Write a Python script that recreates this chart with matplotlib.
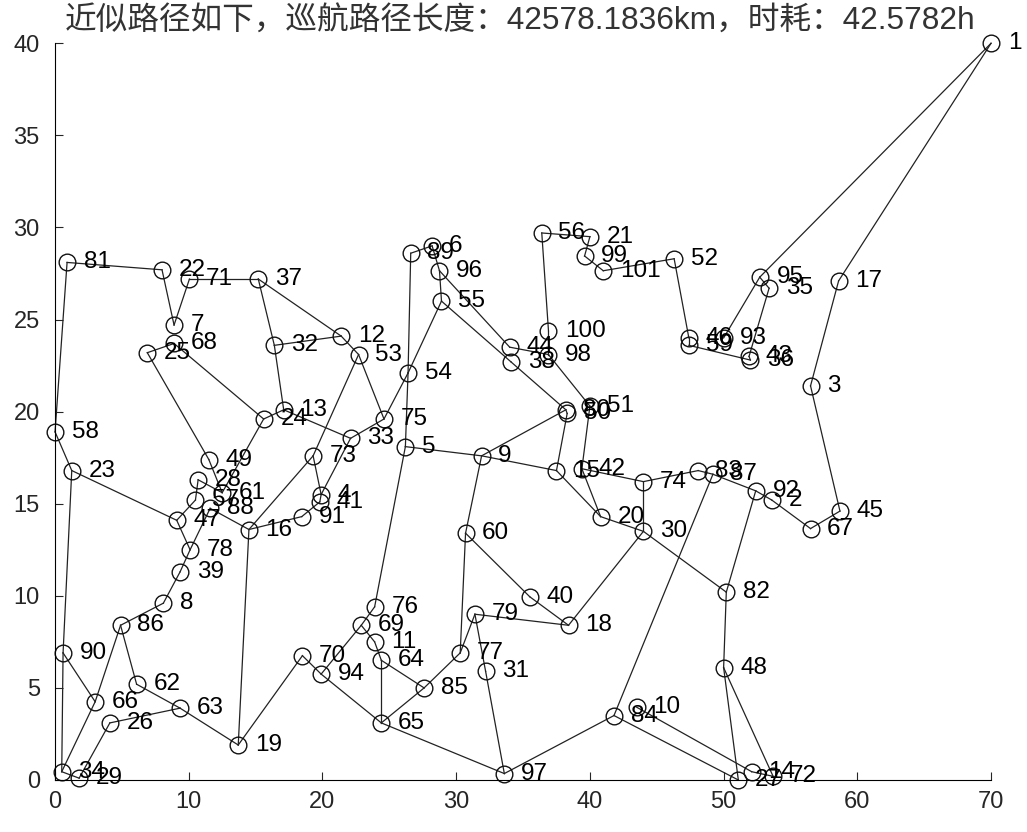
import numpy as np
import matplotlib.pyplot as plt

plt.rcParams['font.family'] = ['Liberation Sans', 'Noto Sans CJK SC', 'DejaVu Sans']

# city coordinates, indexed by city number
city_x = {1: 70.0, 2: 53.6, 3: 56.5, 4: 19.9, 5: 26.2, 6: 28.2, 7: 8.9, 8: 8.1, 9: 31.9, 10: 43.5,
          11: 23.9, 12: 21.4, 13: 17.1, 14: 52.1, 15: 37.5, 16: 14.5, 17: 58.6, 18: 38.4, 19: 13.7, 20: 40.8,
          21: 40.0, 22: 8.0, 23: 1.25, 24: 15.6, 25: 6.9, 26: 4.1, 27: 51.1, 28: 10.7, 29: 1.8, 30: 44.0,
          31: 32.2, 32: 16.4, 33: 22.1, 34: 0.5, 35: 53.4, 36: 52.0, 37: 15.2, 38: 34.1, 39: 9.35, 40: 35.5,
          41: 19.8, 42: 39.4, 43: 51.9, 44: 34.0, 45: 58.7, 46: 47.4, 47: 9.1, 48: 50.0, 49: 11.5, 50: 38.3,
          51: 40.0, 52: 46.3, 53: 22.7, 54: 26.4, 55: 28.9, 56: 36.4, 57: 10.5, 58: 0.0, 59: 47.4, 60: 30.7,
          61: 12.5, 62: 6.1, 63: 9.35, 64: 24.4, 65: 24.4, 66: 3.0, 67: 56.5, 68: 8.9, 69: 22.9, 70: 18.5,
          71: 10.05, 72: 53.7, 73: 19.3, 74: 44.0, 75: 24.6, 76: 23.9, 77: 30.3, 78: 10.1, 79: 31.4, 80: 38.2,
          81: 0.9, 82: 50.2, 83: 48.1, 84: 41.8, 85: 27.6, 86: 4.9, 87: 49.2, 88: 11.6, 89: 26.6, 90: 0.6,
          91: 18.45, 92: 52.4, 93: 50.0, 94: 19.9, 95: 52.7, 96: 28.75, 97: 33.6, 98: 36.9, 99: 39.6, 100: 36.9,
          101: 41.0}
city_y = {1: 40.0, 2: 15.2, 3: 21.4, 4: 15.5, 5: 18.1, 6: 29.0, 7: 24.7, 8: 9.6, 9: 17.6, 10: 3.95,
          11: 7.5, 12: 24.1, 13: 20.1, 14: 0.45, 15: 16.8, 16: 13.6, 17: 27.1, 18: 8.4, 19: 1.9, 20: 14.3,
          21: 29.5, 22: 27.7, 23: 16.8, 24: 19.6, 25: 23.2, 26: 3.1, 27: 0.0, 28: 16.3, 29: 0.1, 30: 13.5,
          31: 5.9, 32: 23.6, 33: 18.55, 34: 0.45, 35: 26.7, 36: 22.8, 37: 27.2, 38: 22.7, 39: 11.3, 40: 9.95,
          41: 15.1, 42: 16.9, 43: 23.0, 44: 23.5, 45: 14.6, 46: 24.0, 47: 14.1, 48: 6.1, 49: 17.4, 50: 19.9,
          51: 20.3, 52: 28.3, 53: 23.1, 54: 22.1, 55: 26.0, 56: 29.7, 57: 15.2, 58: 18.9, 59: 23.6, 60: 13.4,
          61: 15.6, 62: 5.2, 63: 3.9, 64: 6.5, 65: 3.1, 66: 4.25, 67: 13.65, 68: 23.7, 69: 8.4, 70: 6.75,
          71: 27.2, 72: 0.2, 73: 17.6, 74: 16.2, 75: 19.6, 76: 9.4, 77: 6.9, 78: 12.5, 79: 9.0, 80: 20.1,
          81: 28.1, 82: 10.2, 83: 16.8, 84: 3.5, 85: 5.0, 86: 8.4, 87: 16.6, 88: 14.75, 89: 28.6, 90: 6.9,
          91: 14.3, 92: 15.7, 93: 24.0, 94: 5.75, 95: 27.3, 96: 27.65, 97: 0.35, 98: 23.1, 99: 28.45, 100: 24.4,
          101: 27.65}

# legs of the cruise route (from city, to city)
legs = [(1, 95), (1, 17), (17, 3), (3, 45), (45, 67), (67, 2), (2, 92), (92, 87), (87, 83), (83, 74),
        (92, 82), (30, 82), (82, 48), (48, 27), (48, 72), (72, 14), (14, 10), (27, 84), (84, 87), (84, 97),
        (95, 35), (95, 93), (35, 43), (43, 36), (36, 59), (59, 46), (46, 52), (52, 101), (101, 99), (99, 21),
        (21, 56), (56, 100), (100, 98), (98, 51), (44, 98), (44, 96), (38, 55), (38, 80), (96, 6), (6, 89),
        (96, 55), (89, 54), (54, 5), (54, 55), (54, 75), (75, 53), (75, 33), (53, 12), (53, 73), (12, 32),
        (12, 37), (32, 37), (32, 13), (13, 24), (24, 68), (68, 25), (25, 49), (24, 61), (49, 61), (28, 61),
        (28, 57), (57, 47), (47, 23), (47, 78), (78, 39), (39, 8), (8, 86), (86, 62), (86, 66), (66, 90),
        (66, 34), (90, 23), (90, 34), (34, 29), (29, 26), (26, 63), (62, 63), (63, 19), (19, 16), (19, 70),
        (70, 94), (94, 69), (94, 65), (65, 97), (65, 85), (65, 64), (64, 11), (11, 69), (69, 76), (76, 5),
        (64, 85), (85, 77), (77, 60), (77, 79), (79, 31), (31, 97), (79, 18), (60, 40), (40, 18), (18, 30),
        (30, 74), (30, 20), (20, 15), (20, 42), (42, 74), (42, 51), (15, 9), (9, 5), (9, 80), (9, 60),
        (80, 50), (15, 50), (33, 13), (33, 4), (73, 16), (73, 4), (4, 41), (41, 91), (91, 16), (16, 88),
        (88, 78), (58, 23), (58, 81), (81, 22), (22, 7), (7, 71), (71, 37)]

fig = plt.figure(figsize=(10.27, 8.32), dpi=100)
ax = fig.add_axes([0.0536, 0.0625, 0.9114, 0.8855])

for a, b in legs:
    ax.plot([city_x[a], city_x[b]], [city_y[a], city_y[b]], '-', color='#222222', lw=0.9,
            clip_on=False)
ax.plot(list(city_x.values()), list(city_y.values()), 'o', mfc='none', mec='#111111', ms=12, mew=1.0,
        clip_on=False)
for c in city_x:
    ax.annotate(str(c), (city_x[c], city_y[c]), xytext=(12, 0), textcoords='offset points',
                va='center', ha='left', fontsize=17.5)

ax.set_xlim(0, 70)
ax.set_ylim(0, 40)
ax.set_xticks(range(0, 71, 10))
ax.set_yticks(range(0, 41, 5))
ax.tick_params(direction='in', labelsize=17, length=6, colors='#262626')
ax.tick_params(axis='y', pad=11)
ax.tick_params(axis='x', pad=8)
ax.spines['top'].set_visible(False)
ax.spines['right'].set_visible(False)
fig.text(0.506, 1 - 22 / 832, '近似路径如下，巡航路径长度：42578.1836km，时耗：42.5782h',
         fontsize=22.8, color='#333333', ha='center', va='center')

fig.savefig('out.png')
